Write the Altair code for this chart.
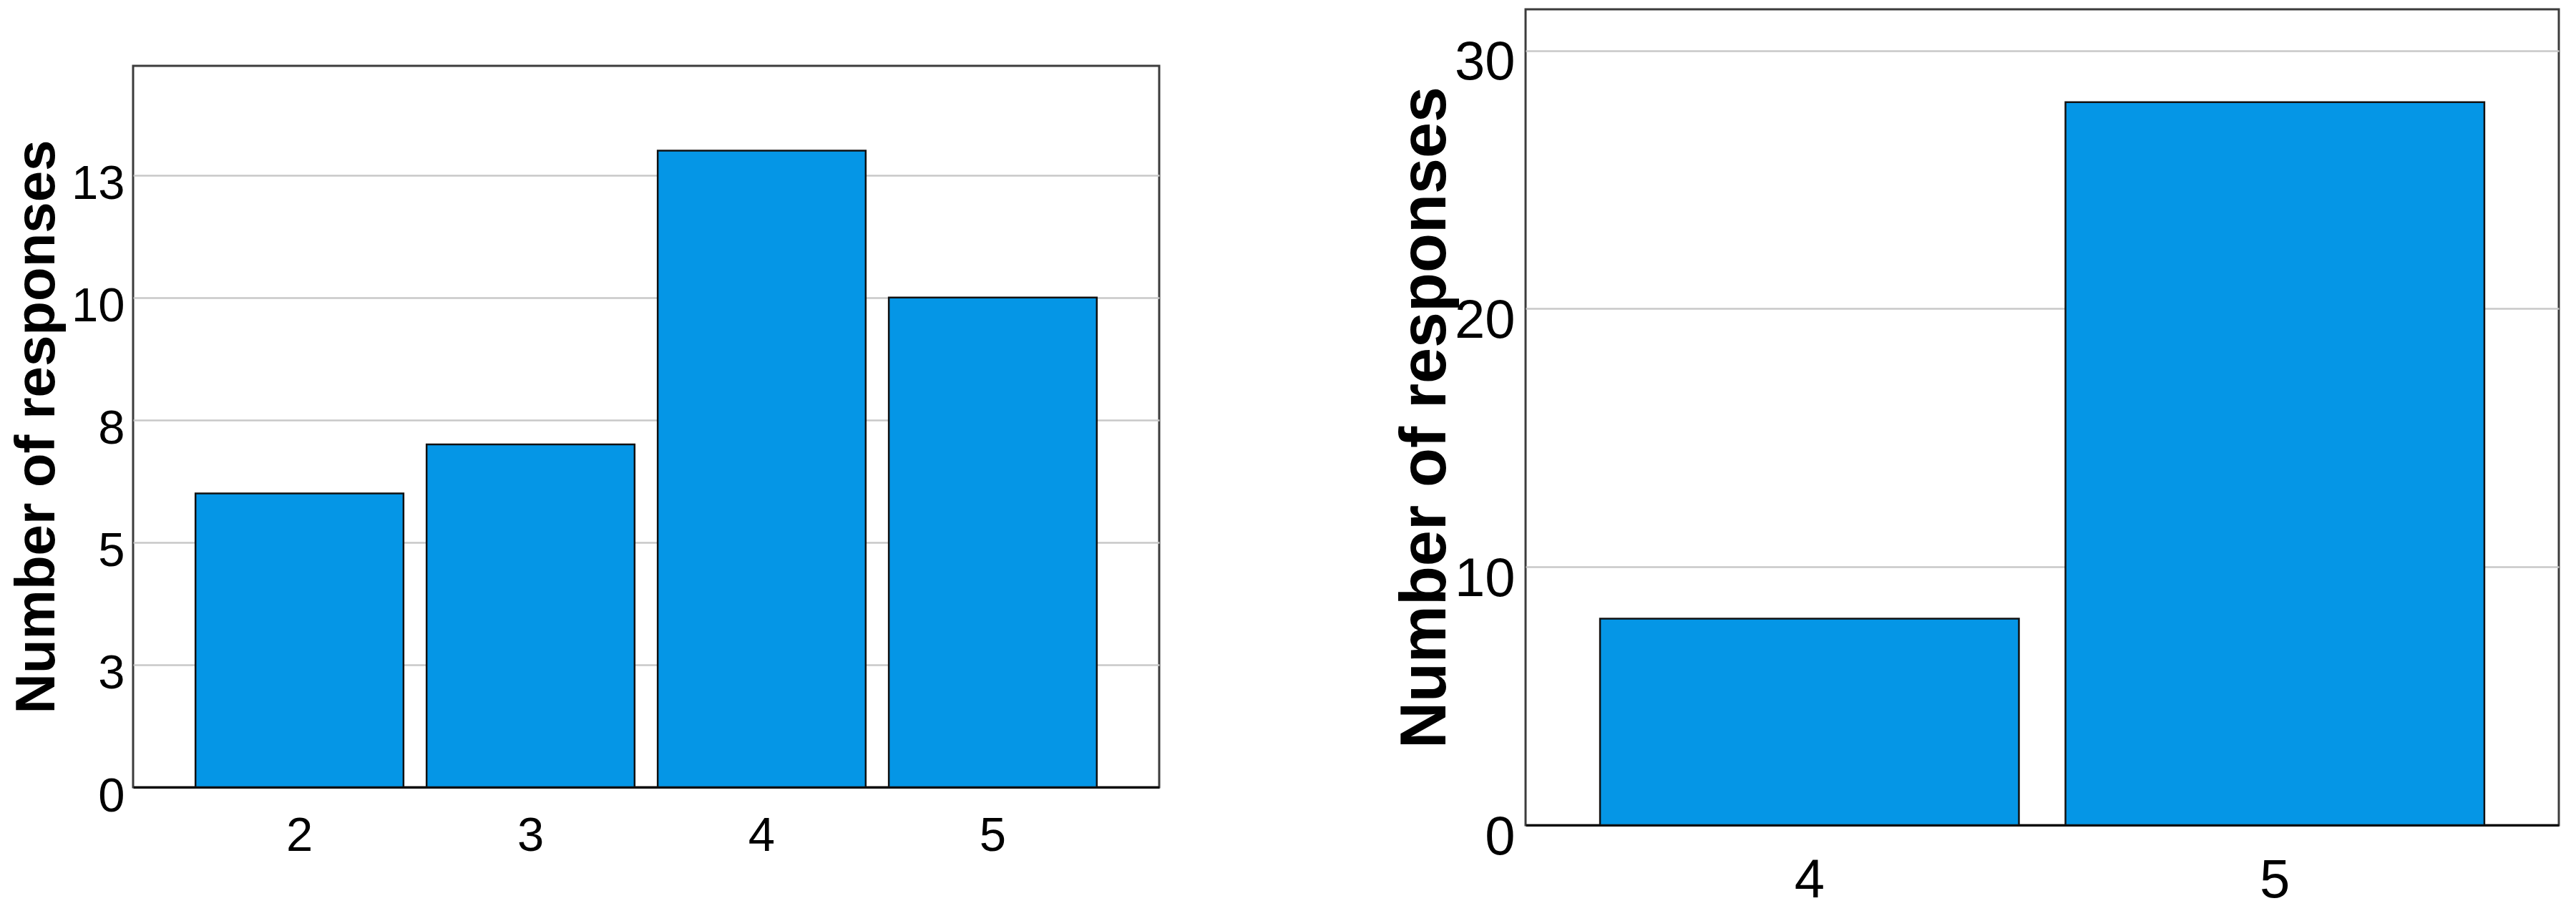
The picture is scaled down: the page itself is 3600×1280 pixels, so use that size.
import altair as alt
import pandas as pd

# ---- data ----
left_categories = ["2", "3", "4", "5"]
left_counts = [6, 7, 13, 10]
left_ticks = [0, 2.5, 5, 7.5, 10, 12.5]
left_tick_labels = ["0", "3", "5", "8", "10", "13"]
left_y_max = 14.73

right_categories = ["4", "5"]
right_counts = [8, 28]
right_ticks = [0, 10, 20, 30]
right_tick_labels = ["0", "10", "20", "30"]
right_y_max = 31.6

y_title = "Number of responses"

BAR = "#0596e6"
FONT = "Liberation Sans"
TITLE_FONT = "Liberation Sans"
FRAME = {"stroke": "#3c3c3c", "strokeWidth": 3}


def label_expr(ticks, labels):
    expr = "''"
    for t, l in reversed(list(zip(ticks, labels))):
        expr = f"datum.value == {t} ? '{l}' : ({expr})"
    return expr


def panel(cats, counts, ticks, labels, ymax, w, h, pad_outer, tick_fs,
          title_fs, title_x, ylab_pad, ylab_off, xlab_pad):
    df = pd.DataFrame({"category": cats, "count": counts})
    bars = alt.Chart(df).mark_bar(color=BAR, stroke="#111111", strokeWidth=2.5).encode(
        x=alt.X("category:N", sort=cats, title=None,
                scale=alt.Scale(paddingInner=0.1, paddingOuter=pad_outer),
                axis=alt.Axis(labelAngle=0, ticks=False, labelPadding=xlab_pad,
                              labelFontSize=tick_fs, labelFont=FONT, labelColor="black",
                              domainColor="black", domainWidth=3, grid=False,
                              labelBaseline="top")),
        y=alt.Y("count:Q", title=y_title,
                scale=alt.Scale(domain=[0, ymax], nice=False, zero=True),
                axis=alt.Axis(values=ticks, labelExpr=label_expr(ticks, labels),
                              ticks=False, domain=False, grid=True,
                              gridColor="#c8c8c8", gridWidth=2.5,
                              labelFontSize=tick_fs, labelFont=FONT, labelColor="black",
                              labelPadding=ylab_pad, labelOffset=ylab_off,
                              titleFontSize=title_fs, titleFont=TITLE_FONT,
                              titleFontWeight="bold", titleColor="black",
                              titleX=title_x, titleY=h / 2, titleAngle=270,
                              titleAlign="center", titleBaseline="middle")),
    ).properties(width=w, height=h, view=FRAME)
    return bars


left_plot = panel(left_categories, left_counts, left_ticks, left_tick_labels, left_y_max,
                  w=1434, h=1008, pad_outer=0.27, tick_fs=67, title_fs=78, title_x=-134,
                  ylab_pad=12, ylab_off=13, xlab_pad=35)

right = panel(right_categories, right_counts, right_ticks, right_tick_labels, right_y_max,
              w=1444, h=1140, pad_outer=0.16, tick_fs=76, title_fs=90, title_x=-140,
              ylab_pad=15, ylab_off=17, xlab_pad=40)

# blank strip that lowers the left panel relative to the right one
spacer = alt.Chart(pd.DataFrame({"s": [0]})).mark_rule(
    color="white", strokeWidth=1).encode(
    x=alt.value(0), y=alt.value(0), y2=alt.value(1)
).properties(width=1, height=76, view={"stroke": "transparent"})

left = alt.vconcat(spacer, left_plot, spacing=0)

chart = alt.hconcat(left, right, spacing=323).properties(
    padding={"left": 3, "top": 3, "right": 5, "bottom": 5}
).configure(background="white")

chart.save("out.html", embed_options={"renderer": "svg", "actions": False})
